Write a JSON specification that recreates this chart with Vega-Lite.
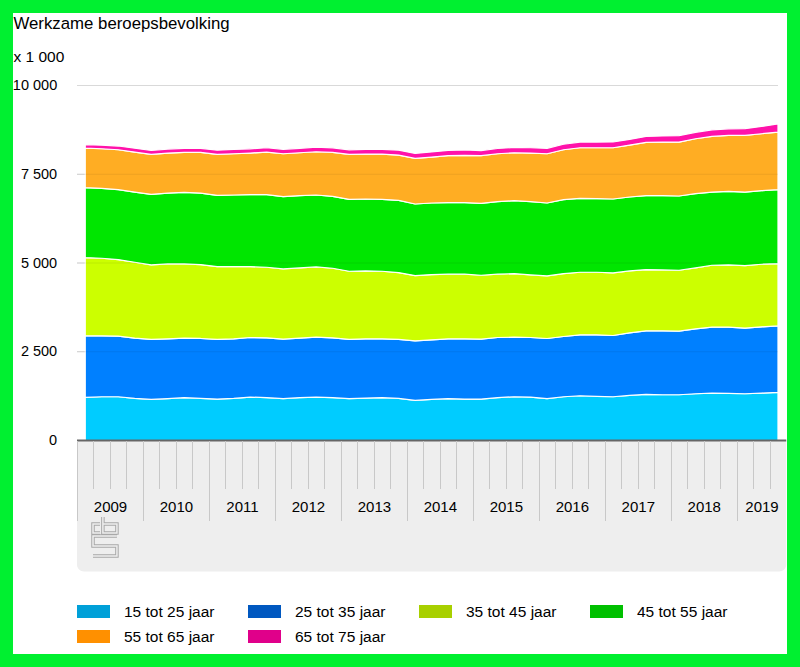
{
  "$schema": "https://vega.github.io/schema/vega-lite/v6.json",
  "width": 800,
  "height": 667,
  "autosize": {"type": "none"},
  "padding": 0,
  "background": "white",
  "title": {
    "text": "Werkzame beroepsbevolking",
    "subtitle": "x 1 000",
    "anchor": "start",
    "frame": "group",
    "orient": "top",
    "offset": -65,
    "dx": 13.5,
    "font": "Liberation Sans",
    "fontSize": 16.8,
    "fontWeight": "normal",
    "color": "#000000",
    "subtitleFont": "Liberation Sans",
    "subtitleFontSize": 15.5,
    "subtitleColor": "#000000",
    "subtitlePadding": 17
  },
  "resolve": {"axis": {"x": "independent", "y": "independent"}},
  "layer": [
    {
      "data": {"values": [{}]},
      "mark": {"type": "rect", "color": "#eeeeee", "cornerRadiusBottomLeft": 7, "cornerRadiusBottomRight": 7},
      "encoding": {
        "x": {"datum": 2009, "type": "quantitative", "scale": {"domain": [2007.8329, 2019.9586], "nice": false, "zero": false},
          "axis": {"orient": "bottom", "offset": -226.5, "values": [2009.25,2009.5,2009.75,2010.25,2010.5,2010.75,2011.25,2011.5,2011.75,2012.25,2012.5,2012.75,2013.25,2013.5,2013.75,2014.25,2014.5,2014.75,2015.25,2015.5,2015.75,2016.25,2016.5,2016.75,2017.25,2017.5,2017.75,2018.25,2018.5,2018.75,2019.25,2019.5],
            "tickSize": 48, "tickColor": "#c8c8c8", "tickWidth": 1, "labels": false, "domain": false, "grid": false, "title": null, "zindex": 1}},
        "x2": {"datum": 2019.75},
        "y": {"datum": 0, "type": "quantitative", "scale": {"domain": [-6380.3, 12408.5], "nice": false, "zero": false}, "axis": null},
        "y2": {"datum": -3690}
      }
    },
    {
      "data": {"values": [{"waarde": 2500}, {"waarde": 5000}, {"waarde": 7500}, {"waarde": 10000}]},
      "mark": {"type": "rule", "color": "#d9d9d9", "strokeWidth": 1.2},
      "encoding": {
        "x": {"datum": 2009, "type": "quantitative", "scale": {"domain": [2007.8329, 2019.9586], "nice": false, "zero": false},
          "axis": {"orient": "bottom", "offset": -226.5, "values": [2009,2010,2011,2012,2013,2014,2015,2016,2017,2018,2019],
            "tickSize": 80, "tickColor": "#c8c8c8", "tickWidth": 1, "labels": false, "domain": false, "grid": false, "title": null, "zindex": 1}},
        "x2": {"datum": 2019.625},
        "y": {"field": "waarde", "type": "quantitative", "scale": {"domain": [-6380.3, 12408.5], "nice": false, "zero": false}, "axis": null}
      }
    },
    {
      "data": {"values": [
        {"leeftijd": "15 tot 25 jaar"}, {"leeftijd": "25 tot 35 jaar"}, {"leeftijd": "35 tot 45 jaar"},
        {"leeftijd": "45 tot 55 jaar"}, {"leeftijd": "55 tot 65 jaar"}, {"leeftijd": "65 tot 75 jaar"}
      ]},
      "mark": {"type": "rect", "strokeWidth": 0},
      "encoding": {
        "x": {"datum": 2010, "type": "quantitative", "scale": {"domain": [2007.8329, 2019.9586], "nice": false, "zero": false}, "axis": null},
        "x2": {"datum": 2010},
        "y": {"datum": 0, "type": "quantitative", "scale": {"domain": [-6380.3, 12408.5], "nice": false, "zero": false}, "axis": null},
        "y2": {"datum": 0},
        "fill": {"field": "leeftijd", "type": "nominal",
          "scale": {"domain": ["15 tot 25 jaar", "25 tot 35 jaar", "35 tot 45 jaar", "45 tot 55 jaar", "55 tot 65 jaar", "65 tot 75 jaar"],
                    "range": ["#00a0d8", "#0058c0", "#a8d000", "#00c000", "#ff9000", "#e0008a"]},
          "legend": {"orient": "none", "legendX": 77, "legendY": 595, "direction": "horizontal", "columns": 4, "title": null,
            "padding": 0, "symbolType": "M-1,-0.4H1V0.4H-1Z", "symbolSize": 1089, "symbolStrokeWidth": 0, "labelOffset": 14, "columnPadding": 33, "rowPadding": -1.3,
            "gridAlign": "all", "labelFont": "Liberation Sans", "labelFontSize": 15.5, "labelColor": "#000000", "labelLimit": 300}}
      }
    },
    {
      "data": {"values": [
        {"t": 2009.125, "15 tot 25 jaar": 1214, "25 tot 35 jaar": 1735, "35 tot 45 jaar": 2203, "45 tot 55 jaar": 1969, "55 tot 65 jaar": 1116, "65 tot 75 jaar": 100},
        {"t": 2009.375, "15 tot 25 jaar": 1233, "25 tot 35 jaar": 1716, "35 tot 45 jaar": 2185, "45 tot 55 jaar": 1969, "55 tot 65 jaar": 1116, "65 tot 75 jaar": 100},
        {"t": 2009.625, "15 tot 25 jaar": 1233, "25 tot 35 jaar": 1707, "35 tot 45 jaar": 2156, "45 tot 55 jaar": 1969, "55 tot 65 jaar": 1125, "65 tot 75 jaar": 105},
        {"t": 2009.875, "15 tot 25 jaar": 1186, "25 tot 35 jaar": 1697, "35 tot 45 jaar": 2138, "45 tot 55 jaar": 1978, "55 tot 65 jaar": 1126, "65 tot 75 jaar": 110},
        {"t": 2010.125, "15 tot 25 jaar": 1158, "25 tot 35 jaar": 1688, "35 tot 45 jaar": 2100, "45 tot 55 jaar": 1988, "55 tot 65 jaar": 1125, "65 tot 75 jaar": 110},
        {"t": 2010.375, "15 tot 25 jaar": 1177, "25 tot 35 jaar": 1687, "35 tot 45 jaar": 2110, "45 tot 55 jaar": 1997, "55 tot 65 jaar": 1126, "65 tot 75 jaar": 112},
        {"t": 2010.625, "15 tot 25 jaar": 1205, "25 tot 35 jaar": 1678, "35 tot 45 jaar": 2091, "45 tot 55 jaar": 2016, "55 tot 65 jaar": 1125, "65 tot 75 jaar": 115},
        {"t": 2010.875, "15 tot 25 jaar": 1186, "25 tot 35 jaar": 1688, "35 tot 45 jaar": 2081, "45 tot 55 jaar": 2016, "55 tot 65 jaar": 1144, "65 tot 75 jaar": 115},
        {"t": 2011.125, "15 tot 25 jaar": 1167, "25 tot 35 jaar": 1679, "35 tot 45 jaar": 2053, "45 tot 55 jaar": 2007, "55 tot 65 jaar": 1153, "65 tot 75 jaar": 118},
        {"t": 2011.375, "15 tot 25 jaar": 1186, "25 tot 35 jaar": 1678, "35 tot 45 jaar": 2035, "45 tot 55 jaar": 2016, "55 tot 65 jaar": 1163, "65 tot 75 jaar": 120},
        {"t": 2011.625, "15 tot 25 jaar": 1224, "25 tot 35 jaar": 1678, "35 tot 45 jaar": 1997, "45 tot 55 jaar": 2026, "55 tot 65 jaar": 1172, "65 tot 75 jaar": 120},
        {"t": 2011.875, "15 tot 25 jaar": 1205, "25 tot 35 jaar": 1688, "35 tot 45 jaar": 1987, "45 tot 55 jaar": 2045, "55 tot 65 jaar": 1200, "65 tot 75 jaar": 122},
        {"t": 2012.125, "15 tot 25 jaar": 1177, "25 tot 35 jaar": 1678, "35 tot 45 jaar": 1979, "45 tot 55 jaar": 2034, "55 tot 65 jaar": 1210, "65 tot 75 jaar": 125},
        {"t": 2012.375, "15 tot 25 jaar": 1205, "25 tot 35 jaar": 1678, "35 tot 45 jaar": 1979, "45 tot 55 jaar": 2034, "55 tot 65 jaar": 1210, "65 tot 75 jaar": 125},
        {"t": 2012.625, "15 tot 25 jaar": 1224, "25 tot 35 jaar": 1687, "35 tot 45 jaar": 1979, "45 tot 55 jaar": 2025, "55 tot 65 jaar": 1219, "65 tot 75 jaar": 128},
        {"t": 2012.875, "15 tot 25 jaar": 1205, "25 tot 35 jaar": 1688, "35 tot 45 jaar": 1959, "45 tot 55 jaar": 2026, "55 tot 65 jaar": 1237, "65 tot 75 jaar": 130},
        {"t": 2013.125, "15 tot 25 jaar": 1177, "25 tot 35 jaar": 1669, "35 tot 45 jaar": 1922, "45 tot 55 jaar": 2025, "55 tot 65 jaar": 1266, "65 tot 75 jaar": 130},
        {"t": 2013.375, "15 tot 25 jaar": 1196, "25 tot 35 jaar": 1668, "35 tot 45 jaar": 1913, "45 tot 55 jaar": 2026, "55 tot 65 jaar": 1265, "65 tot 75 jaar": 132},
        {"t": 2013.625, "15 tot 25 jaar": 1205, "25 tot 35 jaar": 1659, "35 tot 45 jaar": 1904, "45 tot 55 jaar": 2025, "55 tot 65 jaar": 1275, "65 tot 75 jaar": 135},
        {"t": 2013.875, "15 tot 25 jaar": 1186, "25 tot 35 jaar": 1660, "35 tot 45 jaar": 1884, "45 tot 55 jaar": 2035, "55 tot 65 jaar": 1275, "65 tot 75 jaar": 138},
        {"t": 2014.125, "15 tot 25 jaar": 1130, "25 tot 35 jaar": 1678, "35 tot 45 jaar": 1838, "45 tot 55 jaar": 2016, "55 tot 65 jaar": 1285, "65 tot 75 jaar": 140},
        {"t": 2014.375, "15 tot 25 jaar": 1158, "25 tot 35 jaar": 1678, "35 tot 45 jaar": 1838, "45 tot 55 jaar": 2016, "55 tot 65 jaar": 1294, "65 tot 75 jaar": 145},
        {"t": 2014.625, "15 tot 25 jaar": 1177, "25 tot 35 jaar": 1687, "35 tot 45 jaar": 1820, "45 tot 55 jaar": 2015, "55 tot 65 jaar": 1323, "65 tot 75 jaar": 150},
        {"t": 2014.875, "15 tot 25 jaar": 1167, "25 tot 35 jaar": 1697, "35 tot 45 jaar": 1820, "45 tot 55 jaar": 2015, "55 tot 65 jaar": 1332, "65 tot 75 jaar": 152},
        {"t": 2015.125, "15 tot 25 jaar": 1167, "25 tot 35 jaar": 1688, "35 tot 45 jaar": 1800, "45 tot 55 jaar": 2026, "55 tot 65 jaar": 1341, "65 tot 75 jaar": 145},
        {"t": 2015.375, "15 tot 25 jaar": 1205, "25 tot 35 jaar": 1697, "35 tot 45 jaar": 1782, "45 tot 55 jaar": 2044, "55 tot 65 jaar": 1350, "65 tot 75 jaar": 148},
        {"t": 2015.625, "15 tot 25 jaar": 1233, "25 tot 35 jaar": 1678, "35 tot 45 jaar": 1791, "45 tot 55 jaar": 2054, "55 tot 65 jaar": 1350, "65 tot 75 jaar": 150},
        {"t": 2015.875, "15 tot 25 jaar": 1224, "25 tot 35 jaar": 1678, "35 tot 45 jaar": 1763, "45 tot 55 jaar": 2063, "55 tot 65 jaar": 1369, "65 tot 75 jaar": 150},
        {"t": 2016.125, "15 tot 25 jaar": 1177, "25 tot 35 jaar": 1697, "35 tot 45 jaar": 1763, "45 tot 55 jaar": 2053, "55 tot 65 jaar": 1388, "65 tot 75 jaar": 152},
        {"t": 2016.375, "15 tot 25 jaar": 1233, "25 tot 35 jaar": 1697, "35 tot 45 jaar": 1772, "45 tot 55 jaar": 2082, "55 tot 65 jaar": 1406, "65 tot 75 jaar": 155},
        {"t": 2016.625, "15 tot 25 jaar": 1261, "25 tot 35 jaar": 1716, "35 tot 45 jaar": 1763, "45 tot 55 jaar": 2081, "55 tot 65 jaar": 1426, "65 tot 75 jaar": 158},
        {"t": 2016.875, "15 tot 25 jaar": 1242, "25 tot 35 jaar": 1735, "35 tot 45 jaar": 1763, "45 tot 55 jaar": 2072, "55 tot 65 jaar": 1435, "65 tot 75 jaar": 160},
        {"t": 2017.125, "15 tot 25 jaar": 1233, "25 tot 35 jaar": 1725, "35 tot 45 jaar": 1763, "45 tot 55 jaar": 2082, "55 tot 65 jaar": 1444, "65 tot 75 jaar": 162},
        {"t": 2017.375, "15 tot 25 jaar": 1271, "25 tot 35 jaar": 1762, "35 tot 45 jaar": 1744, "45 tot 55 jaar": 2082, "55 tot 65 jaar": 1463, "65 tot 75 jaar": 160},
        {"t": 2017.625, "15 tot 25 jaar": 1299, "25 tot 35 jaar": 1791, "35 tot 45 jaar": 1725, "45 tot 55 jaar": 2081, "55 tot 65 jaar": 1501, "65 tot 75 jaar": 168},
        {"t": 2017.875, "15 tot 25 jaar": 1289, "25 tot 35 jaar": 1801, "35 tot 45 jaar": 1715, "45 tot 55 jaar": 2091, "55 tot 65 jaar": 1510, "65 tot 75 jaar": 175},
        {"t": 2018.125, "15 tot 25 jaar": 1289, "25 tot 35 jaar": 1791, "35 tot 45 jaar": 1716, "45 tot 55 jaar": 2091, "55 tot 65 jaar": 1519, "65 tot 75 jaar": 180},
        {"t": 2018.375, "15 tot 25 jaar": 1317, "25 tot 35 jaar": 1829, "35 tot 45 jaar": 1716, "45 tot 55 jaar": 2091, "55 tot 65 jaar": 1547, "65 tot 75 jaar": 180},
        {"t": 2018.625, "15 tot 25 jaar": 1336, "25 tot 35 jaar": 1857, "35 tot 45 jaar": 1744, "45 tot 55 jaar": 2062, "55 tot 65 jaar": 1566, "65 tot 75 jaar": 186},
        {"t": 2018.875, "15 tot 25 jaar": 1327, "25 tot 35 jaar": 1866, "35 tot 45 jaar": 1753, "45 tot 55 jaar": 2072, "55 tot 65 jaar": 1576, "65 tot 75 jaar": 185},
        {"t": 2019.125, "15 tot 25 jaar": 1317, "25 tot 35 jaar": 1848, "35 tot 45 jaar": 1762, "45 tot 55 jaar": 2072, "55 tot 65 jaar": 1595, "65 tot 75 jaar": 190},
        {"t": 2019.375, "15 tot 25 jaar": 1336, "25 tot 35 jaar": 1866, "35 tot 45 jaar": 1763, "45 tot 55 jaar": 2072, "55 tot 65 jaar": 1604, "65 tot 75 jaar": 205},
        {"t": 2019.625, "15 tot 25 jaar": 1355, "25 tot 35 jaar": 1875, "35 tot 45 jaar": 1754, "45 tot 55 jaar": 2081, "55 tot 65 jaar": 1622, "65 tot 75 jaar": 230}
      ]},
      "transform": [
        {"fold": ["15 tot 25 jaar", "25 tot 35 jaar", "35 tot 45 jaar", "45 tot 55 jaar", "55 tot 65 jaar", "65 tot 75 jaar"], "as": ["leeftijd", "waarde"]}
      ],
      "mark": {"type": "area", "stroke": "white", "strokeWidth": 1.2, "strokeJoin": "round"},
      "encoding": {
        "x": {"field": "t", "type": "quantitative", "scale": {"domain": [2007.8329, 2019.9586], "nice": false, "zero": false},
          "axis": {"orient": "bottom", "offset": -226.5, "values": [2009.5,2010.5,2011.5,2012.5,2013.5,2014.5,2015.5,2016.5,2017.5,2018.5,2019.375],
            "labelExpr": "floor(datum.value)", "ticks": false, "tickSize": 0, "labelPadding": 71.2, "labelBaseline": "alphabetic",
            "labelFont": "Liberation Sans", "labelFontSize": 15, "labelColor": "#000000", "labelFlush": false, "labelOverlap": false, "labelBound": false,
            "domain": false, "grid": false, "title": null, "zindex": 1}},
        "y": {"field": "waarde", "type": "quantitative", "stack": "zero", "scale": {"domain": [-6380.3, 12408.5], "nice": false, "zero": false},
          "axis": {"orient": "left", "offset": -56.7, "values": [0, 2500, 5000, 7500, 10000], "labelExpr": "replace(format(datum.value, ','), ',', ' ')",
            "ticks": false, "tickSize": 0, "labelPadding": 0, "labelFont": "Liberation Sans", "labelFontSize": 14.5, "labelColor": "#000000",
            "labelBaseline": "middle", "domain": false, "grid": false, "title": null, "zindex": 1}},
        "order": {"field": "leeftijd", "type": "ordinal", "sort": "ascending"},
        "color": {"field": "leeftijd", "type": "nominal",
          "scale": {"domain": ["15 tot 25 jaar", "25 tot 35 jaar", "35 tot 45 jaar", "45 tot 55 jaar", "55 tot 65 jaar", "65 tot 75 jaar"],
                    "range": ["#00ccff", "#0080ff", "#ccff00", "#00e600", "#ffad23", "#ff12aa"]},
          "legend": null}
      }
    },
    {
      "data": {"values": [{}]},
      "mark": {"type": "rule", "color": "#666666", "strokeWidth": 2},
      "encoding": {
        "x": {"datum": 2009, "type": "quantitative", "scale": {"domain": [2007.8329, 2019.9586], "nice": false, "zero": false}, "axis": null},
        "x2": {"datum": 2019.75},
        "y": {"datum": 0, "type": "quantitative", "scale": {"domain": [-6380.3, 12408.5], "nice": false, "zero": false}, "axis": null}
      }
    },
    {
      "data": {"values": [{"waarde": 2500}, {"waarde": 5000}, {"waarde": 7500}]},
      "mark": {"type": "rule", "color": "#000000", "opacity": 0.07, "strokeWidth": 1.2},
      "encoding": {
        "x": {"datum": 2009, "type": "quantitative", "scale": {"domain": [2007.8329, 2019.9586], "nice": false, "zero": false}, "axis": null},
        "x2": {"datum": 2019.625},
        "y": {"field": "waarde", "type": "quantitative", "scale": {"domain": [-6380.3, 12408.5], "nice": false, "zero": false}, "axis": null}
      }
    },
    {
      "data": {"values": [{}]},
      "mark": {"type": "point", "shape": "M-0.26,-0.66H-0.63V-0.18H-0.26M-0.11,-1.03V-0.18H0.63V-0.66H-0.11M0.63,-0.03H-0.63V0.5H0.63V1.03H-0.63", "size": 1444, "filled": false, "stroke": "#a8a8a8", "strokeWidth": 3.5, "opacity": 1},
      "encoding": {
        "x": {"datum": 2009.424, "type": "quantitative", "scale": {"domain": [2007.8329, 2019.9586], "nice": false, "zero": false}, "axis": null},
        "y": {"datum": -2704, "type": "quantitative", "scale": {"domain": [-6380.3, 12408.5], "nice": false, "zero": false}, "axis": null}
      }
    },
    {
      "data": {"values": [{}]},
      "mark": {"type": "point", "shape": "M-0.26,-0.66H-0.63V-0.18H-0.26M-0.11,-1.03V-0.18H0.63V-0.66H-0.11M0.63,-0.03H-0.63V0.5H0.63V1.03H-0.63", "size": 1444, "filled": false, "stroke": "#eeeeee", "strokeWidth": 1.5, "opacity": 1},
      "encoding": {
        "x": {"datum": 2009.424, "type": "quantitative", "scale": {"domain": [2007.8329, 2019.9586], "nice": false, "zero": false}, "axis": null},
        "y": {"datum": -2704, "type": "quantitative", "scale": {"domain": [-6380.3, 12408.5], "nice": false, "zero": false}, "axis": null}
      }
    }
  ],
  "config": {
    "view": {"fill": "white", "stroke": "#00f030", "strokeWidth": 26},
    "font": "Liberation Sans"
  }
}
